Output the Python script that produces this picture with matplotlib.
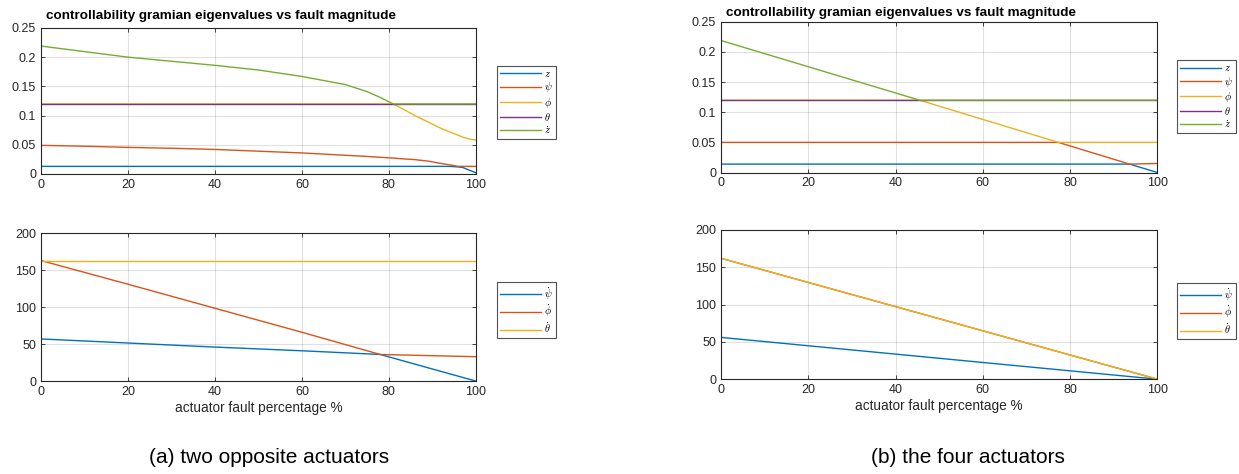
import matplotlib.pyplot as plt
from matplotlib.ticker import FormatStrFormatter

plt.rcParams['font.family'] = ['Liberation Sans', 'DejaVu Sans']
plt.rcParams['mathtext.fontset'] = 'cm'

# colours (MATLAB default order)
colors = ["#0072BD", "#D95319", "#EDB120", "#7E2F8E", "#77AC30"]

top_labels = [r"$z$", r"$\psi$", r"$\phi$", r"$\theta$", r"$\dot{z}$"]
bot_labels = [r"$\dot{\psi}$", r"$\dot{\phi}$", r"$\dot{\theta}$"]

# (a) two opposite actuators - top panel (sorted eigenvalues)
a_top_x = [0, 10, 20, 30, 40, 50, 60, 65, 70, 75, 78, 81, 83, 86, 89, 92, 94, 96, 97, 98, 99, 100]
a_z = [0.013, 0.013, 0.013, 0.013, 0.013, 0.013, 0.013, 0.013, 0.013, 0.013, 0.013,
       0.013, 0.013, 0.013, 0.013, 0.013, 0.013, 0.012, 0.011, 0.008, 0.005, 0.002]
a_psi = [0.049, 0.0475, 0.0455, 0.044, 0.042, 0.039, 0.036, 0.034, 0.032, 0.030, 0.0285,
         0.0272, 0.026, 0.0245, 0.022, 0.018, 0.0155, 0.013, 0.013, 0.013, 0.013, 0.013]
a_phi = [0.12, 0.12, 0.12, 0.12, 0.12, 0.12, 0.12, 0.12, 0.12, 0.12, 0.12,
         0.12, 0.112, 0.100, 0.089, 0.078, 0.072, 0.066, 0.063, 0.061, 0.059, 0.058]
a_theta = [0.12] * 22
a_zdot = [0.219, 0.2095, 0.200, 0.193, 0.186, 0.178, 0.167, 0.160, 0.153, 0.141, 0.131,
          0.12, 0.12, 0.12, 0.12, 0.12, 0.12, 0.12, 0.12, 0.12, 0.12, 0.12]

# (a) bottom panel
a_bot_x = [0, 20, 40, 60, 78, 100]
a_psidot = [57, 51.5, 46, 41, 36, 0]
a_phidot = [163, 131, 98.5, 66, 36, 33]
a_thetadot = [162, 162, 162, 162, 162, 162]

# (b) the four actuators - top panel
b_top_x = [0, 45.5, 77.3, 93.6, 100]
b_z = [0.014, 0.014, 0.014, 0.014, 0.0]
b_psi = [0.05, 0.05, 0.05, 0.014, 0.015]
b_phi = [0.12, 0.12, 0.05, 0.05, 0.05]
b_theta = [0.12, 0.12, 0.12, 0.12, 0.12]
b_zdot = [0.219, 0.12, 0.12, 0.12, 0.12]

# (b) bottom panel
b_bot_x = [0, 100]
b_psidot = [56, 0]
b_phidot = [162, 0]
b_thetadot = [162, 0]

fig = plt.figure(figsize=(12.39, 4.74), dpi=100)


def style(ax, ymax, ystep):
    ax.set_xlim(0, 100)
    ax.set_ylim(0, ymax)
    ax.set_xticks(range(0, 101, 20))
    yt = [i * ystep for i in range(int(round(ymax / ystep)) + 1)]
    ax.set_yticks(yt)
    ax.yaxis.set_major_formatter(FormatStrFormatter('%g'))
    ax.grid(True, color='#000000', alpha=0.12, linewidth=0.8)
    ax.tick_params(direction='in', length=3, top=True, right=True,
                   labelsize=9, colors='#262626', width=0.6)
    for s in ax.spines.values():
        s.set_color('#262626')
        s.set_linewidth(0.8)


def add_legend(ax, x0, y0):
    leg = ax.legend(loc='upper left', bbox_to_anchor=(x0, y0),
                    bbox_transform=fig.transFigure, fontsize=7.5,
                    handlelength=3.9, handletextpad=0.3, borderpad=0.3,
                    labelspacing=0.12, fancybox=False, frameon=True,
                    borderaxespad=0)
    leg.get_frame().set_edgecolor('#262626')
    leg.get_frame().set_linewidth(0.8)


def title(ax, pad):
    ax.text(0.012, pad, "controllability gramian eigenvalues vs fault magnitude",
            transform=ax.transAxes, fontsize=9.7, fontweight='bold',
            ha='left', va='bottom')


# left top
ax1 = fig.add_axes([0.0331, 0.633, 0.351, 0.308])
for ys, c, lab in zip([a_z, a_psi, a_phi, a_theta, a_zdot], colors, top_labels):
    ax1.plot(a_top_x, ys, color=c, lw=1.0, label=lab)
style(ax1, 0.25, 0.05)
title(ax1, 1.04)
add_legend(ax1, 0.4011, 0.861)

# left bottom
ax2 = fig.add_axes([0.0331, 0.196, 0.351, 0.312])
for ys, c, lab in zip([a_psidot, a_phidot, a_thetadot], colors, bot_labels):
    ax2.plot(a_bot_x, ys, color=c, lw=1.0, label=lab)
style(ax2, 200, 50)
ax2.set_xlabel("actuator fault percentage %", fontsize=9.8, color='#262626', labelpad=2)
add_legend(ax2, 0.4011, 0.405)

# right top
ax3 = fig.add_axes([0.5819, 0.636, 0.3523, 0.318])
for ys, c, lab in zip([b_z, b_psi, b_phi, b_theta, b_zdot], colors, top_labels):
    ax3.plot(b_top_x, ys, color=c, lw=1.0, label=lab)
style(ax3, 0.25, 0.05)
title(ax3, 1.02)
add_legend(ax3, 0.95, 0.873)

# right bottom
ax4 = fig.add_axes([0.5819, 0.200, 0.3523, 0.315])
for ys, c, lab in zip([b_psidot, b_phidot, b_thetadot], colors, bot_labels):
    ax4.plot(b_bot_x, ys, color=c, lw=1.0, label=lab)
style(ax4, 200, 50)
ax4.set_xlabel("actuator fault percentage %", fontsize=9.8, color='#262626', labelpad=2)
add_legend(ax4, 0.95, 0.403)

# captions
fig.text(0.217, 0.034, "(a) two opposite actuators", fontsize=15, ha='center', va='center')
fig.text(0.781, 0.034, "(b) the four actuators", fontsize=15, ha='center', va='center')

fig.savefig("out.png", dpi=100)
